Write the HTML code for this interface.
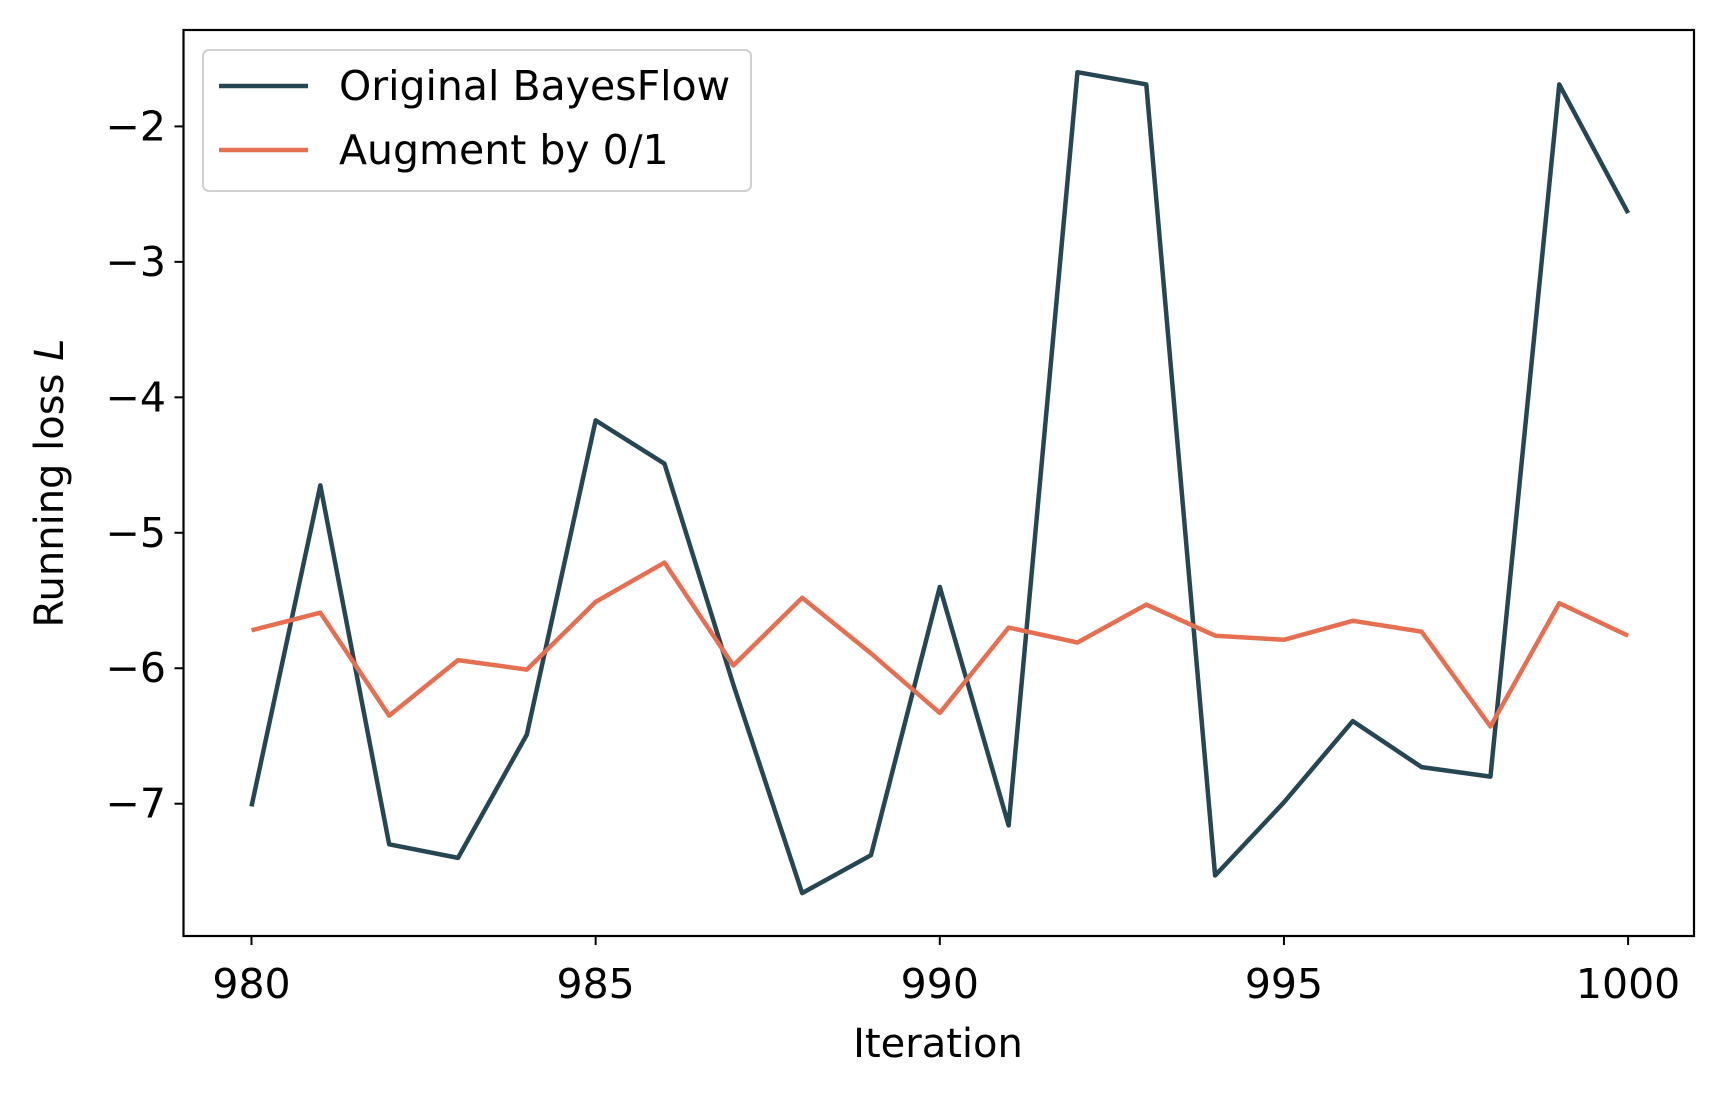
<!DOCTYPE html>
<html><head><meta charset="utf-8"><style>
html,body{margin:0;padding:0;background:#fff;}
svg text{font-family:"DejaVu Sans","Liberation Sans",sans-serif;fill:#000;}
</style></head><body>
<svg id="chart" width="1724" height="1095" viewBox="0 0 1724 1095" xmlns="http://www.w3.org/2000/svg">
<rect width="1724" height="1095" fill="#fff"/>
<g id="plot"></g>
<rect x="183.5" y="30" width="1510.5" height="906" fill="none" stroke="#000" stroke-width="2.2"/>
<text x="938" y="1057" font-size="40" text-anchor="middle">Iteration</text>
<text transform="translate(63,483) rotate(-90)" font-size="40" text-anchor="middle">Running loss <tspan font-style="italic">L</tspan></text>
<g>
<rect x="203" y="50" width="548" height="141" rx="6" fill="#fff" stroke="#d0d0d0" stroke-width="2"/>
<line x1="219" y1="86" x2="308" y2="86" stroke="#264653" stroke-width="4.5"/>
<text x="339" y="100" font-size="41">Original BayesFlow</text>
<line x1="219" y1="150" x2="308" y2="150" stroke="#E76F51" stroke-width="4.5"/>
<text x="339" y="164" font-size="41">Augment by 0/1</text>
</g>
</svg>
<script>
const iterations=[980,981,982,983,984,985,986,987,988,989,990,991,992,993,994,995,996,997,998,999,1000];
const originalLoss=[-7.02,-4.65,-7.30,-7.40,-6.49,-4.17,-4.49,-6.12,-7.66,-7.38,-5.40,-7.16,-1.60,-1.69,-7.53,-6.99,-6.39,-6.73,-6.80,-1.69,-2.64];
const augmentLoss=[-5.72,-5.59,-6.35,-5.94,-6.01,-5.51,-5.22,-5.98,-5.48,-5.89,-6.33,-5.70,-5.81,-5.53,-5.76,-5.79,-5.65,-5.73,-6.43,-5.52,-5.76];
const xTicks=[980,985,990,995,1000];
const yTicks=[-2,-3,-4,-5,-6,-7];
const yTickLabels=["\u22122","\u22123","\u22124","\u22125","\u22126","\u22127"];
const NS="http://www.w3.org/2000/svg";
const g=document.getElementById('plot');
function xs(v){return 251.5+(v-980)*68.83;}
function ys(v){return 126.4+(-2-v)*135.46;}
function mk(t,a){const e=document.createElementNS(NS,t);for(const k in a)e.setAttribute(k,a[k]);g.appendChild(e);return e;}
xTicks.forEach(function(t){
 const l=mk('line',{x1:xs(t),x2:xs(t),y1:936,y2:945,stroke:'#000','stroke-width':2});
 
 
 const tx=mk('text',{x:xs(t),y:998,'font-size':41,'text-anchor':'middle'});
 tx.textContent=t;
 
 
});
yTicks.forEach(function(t,i){
 const l=mk('line',{x1:174.5,x2:183.5,y1:ys(t),y2:ys(t),stroke:'#000','stroke-width':2});
 
 
 const tx=mk('text',{x:166,y:ys(t)+14,'font-size':41,'text-anchor':'end'});
 tx.textContent=yTickLabels[i];
 
 
});
function series(vals,color,name){
 const pts=vals.map(function(v,i){return xs(iterations[i])+','+ys(v);}).join(' ');
 const p=mk('polyline',{points:pts,fill:'none',stroke:color,'stroke-width':4.5,'stroke-linejoin':'round'});
 
 
}
series(originalLoss,'#264653','original-bayesflow-line');
series(augmentLoss,'#E76F51','augment-line');
</script>
</body></html>
